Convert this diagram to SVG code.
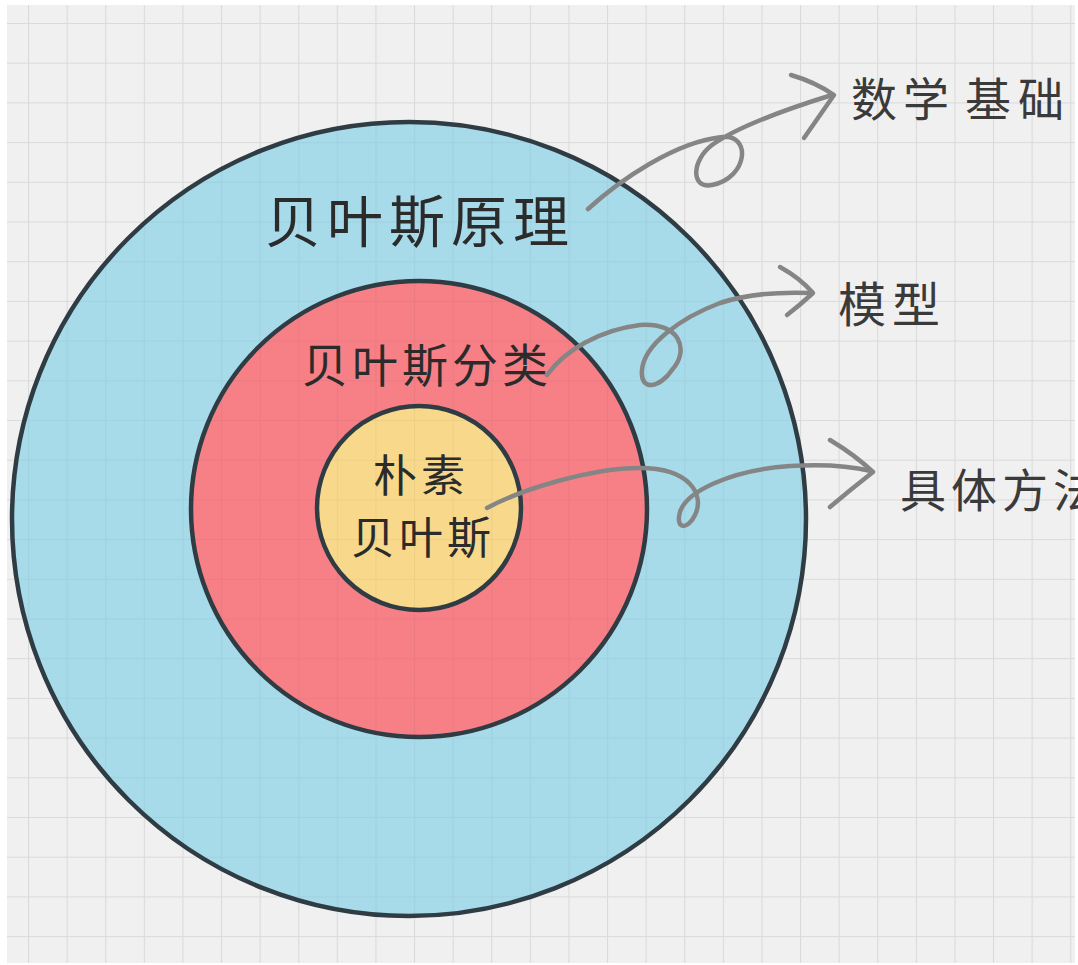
<svg xmlns="http://www.w3.org/2000/svg" width="1078" height="965" viewBox="0 0 1078 965">
<defs>
<style>
.lbl{font-family:"Noto Sans CJK SC","Noto Sans",sans-serif;fill:#2b2b2b;font-weight:400}
.side{font-family:"Noto Sans CJK SC","Noto Sans",sans-serif;fill:#3a3a3a;font-weight:400}
.ring{stroke:#2f3c44;stroke-width:4.5}
.conn{fill:none;stroke:#858585;stroke-width:4.5;stroke-linecap:round;stroke-linejoin:round}
</style>
<pattern id="grid" x="28" y="23" width="38.6" height="39.7" patternUnits="userSpaceOnUse">
<path d="M0,0 V39.7 M0,0 H38.6" fill="none" stroke="#dadada" stroke-width="2.2"/>
</pattern>
<pattern id="gridFaint" x="28" y="23" width="38.6" height="39.7" patternUnits="userSpaceOnUse">
<path d="M0,0 V39.7 M0,0 H38.6" fill="none" stroke="#000" stroke-opacity="0.045" stroke-width="2.2"/>
</pattern>
</defs>
<rect width="1078" height="965" fill="#ffffff"/>
<rect x="7" y="5" width="1068" height="958" fill="#f0f0f0"/>
<rect x="7" y="5" width="1068" height="958" fill="url(#grid)"/>

<g id="outer">
<circle cx="409" cy="519" r="397" fill="#a7dbea" class="ring"/>
</g>
<g id="middle">
<circle cx="419" cy="509" r="228" fill="#f78087" class="ring"/>
</g>
<g id="inner">
<circle cx="419" cy="508" r="102" fill="#f8d98c" class="ring" stroke="#45443a"/>
</g>
<circle cx="409" cy="519" r="395" fill="url(#gridFaint)"/>

<g id="label-outer">
<text class="lbl" x="265" y="242" font-size="56" letter-spacing="6">贝叶斯原理</text>
</g>
<g id="label-middle">
<text class="lbl" x="302" y="382" font-size="46" letter-spacing="4">贝叶斯分类</text>
</g>
<g id="label-inner">
<text class="lbl" x="421" y="492" font-size="44" letter-spacing="4" text-anchor="middle">朴素</text>
<text class="lbl" x="423" y="554" font-size="44" letter-spacing="4" text-anchor="middle">贝叶斯</text>
</g>

<g id="connectors">
<path class="conn" d="M588,209 C620,180 675,142 722,137 C752,134 748,178 712,185 C690,189 692,160 712,145 C740,125 790,108 832,95"/>
<path class="conn" d="M791,75 Q815,82 834,95 Q820,115 804,138"/>
<path class="conn" d="M547,375 C565,350 600,330 640,325 C680,322 690,350 672,370 C660,388 640,392 642,370 C644,345 680,318 720,303 C750,293 785,292 811,293"/>
<path class="conn" d="M780,267 Q800,278 813,293 Q800,305 787,315"/>
<path class="conn" d="M487,508 C520,490 590,468 640,468 C690,468 705,495 695,515 C688,530 675,530 680,512 C686,492 730,470 790,466 C820,464 850,466 871,471"/>
<path class="conn" d="M830,440 Q855,455 873,472 Q850,490 830,507"/>
</g>

<g id="label-math">
<text class="side" x="851" y="116" font-size="46">数</text>
<text class="side" x="903" y="116" font-size="46">学</text>
<text class="side" x="965" y="116" font-size="46">基</text>
<text class="side" x="1018" y="116" font-size="46">础</text>
</g>
<g id="label-model">
<text class="side" x="838" y="322" font-size="48" letter-spacing="6">模型</text>
</g>
<g id="label-method">
<text class="side" x="900" y="507" font-size="46" letter-spacing="5">具体方法</text>
</g>
</svg>
